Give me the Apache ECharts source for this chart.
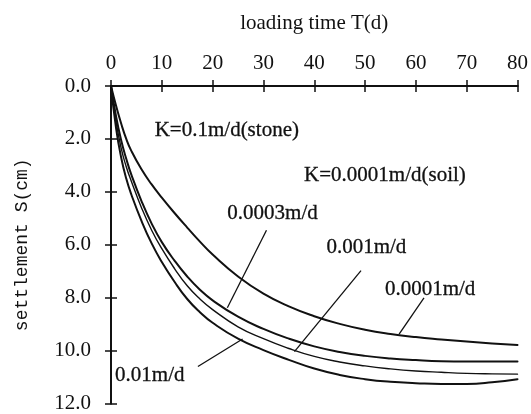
<!DOCTYPE html>
<html>
<head>
<meta charset="utf-8">
<script src="https://cdn.jsdelivr.net/npm/echarts@6/dist/echarts.min.js"></script>
<style>
  html, body { margin: 0; padding: 0; background: #fff; }
  #chart { width: 531px; height: 414px; }
</style>
</head>
<body>
<div id="chart"></div>
<script>
// loading time (d)
var days = [0, 1, 2, 3, 4, 6, 8, 10, 12.5, 15, 17.5, 20, 25, 30, 35, 40, 45, 50, 55, 60, 65, 70, 75, 80];
// settlement S (cm) for each permeability
var s0001 = [0, 0.75, 1.42, 2.0, 2.45, 3.15, 3.72, 4.22, 4.8, 5.35, 5.88, 6.37, 7.2, 7.85, 8.33, 8.7, 8.99, 9.21, 9.37, 9.49, 9.58, 9.66, 9.73, 9.79];
var s0003 = [0, 1.15, 2.05, 2.75, 3.35, 4.35, 5.2, 5.9, 6.6, 7.2, 7.7, 8.1, 8.72, 9.18, 9.55, 9.84, 10.05, 10.2, 10.3, 10.36, 10.4, 10.41, 10.41, 10.41];
var s001 = [0, 1.35, 2.35, 3.05, 3.6, 4.6, 5.45, 6.15, 6.9, 7.55, 8.05, 8.45, 9.1, 9.55, 9.92, 10.22, 10.43, 10.58, 10.69, 10.77, 10.82, 10.86, 10.88, 10.89];
var s01 = [0, 1.6, 2.7, 3.5, 4.1, 5.1, 5.95, 6.65, 7.4, 8.05, 8.55, 8.95, 9.55, 9.98, 10.35, 10.68, 10.92, 11.08, 11.18, 11.23, 11.26, 11.26, 11.2, 11.08];
var xTicks = [0, 10, 20, 30, 40, 50, 60, 70, 80];
var yTicks = [0, 2, 4, 6, 8, 10, 12];

// annotation texts and leader lines, in data units [day, cm]
var notes = [
  { text: 'K=0.1m/d(stone)', at: [8.6, 1.7] },
  { text: 'K=0.0001m/d(soil)', at: [38.0, 3.4] },
  { text: '0.0003m/d', at: [22.9, 4.8], from: [30.6, 5.45], to: [22.9, 8.38] },
  { text: '0.001m/d', at: [42.4, 6.1], from: [49.2, 6.98], to: [36.1, 10.04] },
  { text: '0.0001m/d', at: [53.9, 7.7], from: [61.6, 8.01], to: [56.7, 9.38] },
  { text: '0.01m/d', at: [0.8, 10.95], from: [17.1, 10.6], to: [25.9, 9.56] }
];

function pairs(ys) {
  return days.map(function (d, i) { return [d, ys[i]]; });
}

var serif = '"Liberation Serif", "DejaVu Serif", serif';
var axisLine = { lineStyle: { color: '#111', width: 2 } };
var tickIn = { inside: true, length: 6, lineStyle: { color: '#111', width: 1.5 } };

var chart = echarts.init(document.getElementById('chart'));
var curves = [s0001, s0003, s001, s01];
var widths = [2, 2, 1.4, 2];

chart.setOption({
  animation: false,
  grid: { left: 111, right: 12, top: 86, bottom: 3 },
  xAxis: [
    {
      type: 'value', position: 'top', min: 0, max: 80, interval: 10,
      name: 'loading time T(d)', nameLocation: 'middle', nameGap: 52,
      nameTextStyle: { fontFamily: serif, fontSize: 21, color: '#111' },
      axisLine: axisLine, axisTick: tickIn, splitLine: { show: false },
      axisLabel: { fontFamily: serif, fontSize: 21, color: '#111', margin: 12,
        formatter: function (v) { return xTicks.indexOf(v) >= 0 ? String(v) : ''; } }
    },
    {
      type: 'value', position: 'bottom', min: 0, max: 80, interval: 10,
      axisLine: axisLine, axisTick: tickIn, splitLine: { show: false },
      axisLabel: { show: false }
    }
  ],
  yAxis: [
    {
      type: 'value', inverse: true, min: 0, max: 12, interval: 2,
      name: 'settlement S(cm)', nameLocation: 'middle', nameGap: 80, nameRotate: 90,
      nameTextStyle: { fontFamily: '"Liberation Mono", "DejaVu Sans Mono", monospace', fontSize: 18, color: '#111' },
      axisLine: axisLine, axisTick: tickIn, splitLine: { show: false },
      axisLabel: { fontFamily: serif, fontSize: 21, color: '#111', margin: 20,
        formatter: function (v) { return yTicks.indexOf(v) >= 0 ? v.toFixed(1) : ''; } }
    },
    {
      type: 'value', inverse: true, min: 0, max: 12, interval: 2, position: 'right',
      axisLine: axisLine, axisTick: tickIn, splitLine: { show: false },
      axisLabel: { show: false }
    }
  ],
  series: curves.map(function (c, i) {
    return {
      type: 'line', data: pairs(c), smooth: 0.5,
      showSymbol: false, lineStyle: { color: '#111', width: widths[i], join: 'round', cap: 'round' }
    };
  })
});

var els = [];
notes.forEach(function (n) {
  var p = chart.convertToPixel({ gridIndex: 0 }, n.at);
  els.push({
    type: 'text', x: p[0], y: p[1],
    style: { text: n.text, fontFamily: serif, fontSize: 21, fill: '#111', verticalAlign: 'middle',
      stroke: '#111', lineWidth: 0.3 }
  });
  if (n.from) {
    var a = chart.convertToPixel({ gridIndex: 0 }, n.from);
    var b = chart.convertToPixel({ gridIndex: 0 }, n.to);
    els.push({
      type: 'line', shape: { x1: a[0], y1: a[1], x2: b[0], y2: b[1] },
      style: { stroke: '#111', lineWidth: 1.3 }
    });
  }
});
chart.setOption({ graphic: els });
</script>
</body>
</html>
